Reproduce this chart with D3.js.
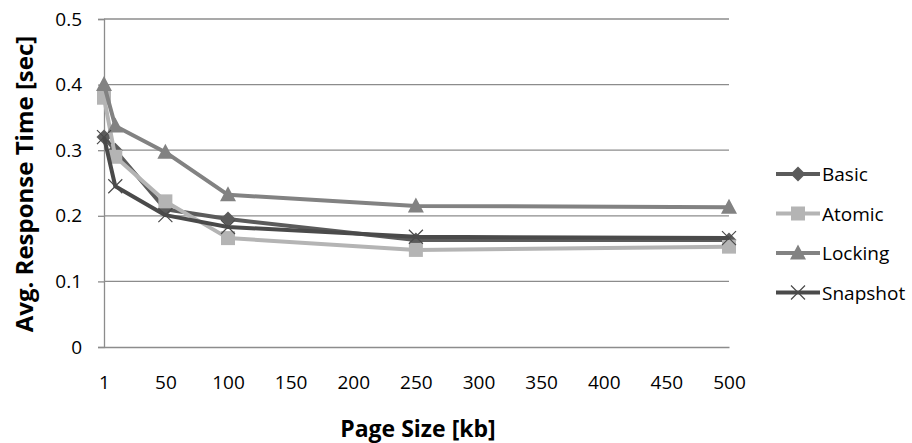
<!DOCTYPE html>
<html>
<head>
<meta charset="utf-8">
<script src="https://cdn.jsdelivr.net/npm/d3@7"></script>
<style>
  body { margin: 0; background: #fff; }
  text { font-family: "Open Sans", "Liberation Sans", sans-serif; fill: #000; }
</style>
</head>
<body>
<svg id="chart" width="912" height="443"></svg>
<script>
// page sizes in kb
const pageSizes = [1, 10, 50, 100, 250, 500];
const basic    = [0.320, 0.300, 0.210, 0.195, 0.163, 0.163];
const atomic   = [0.380, 0.290, 0.222, 0.166, 0.148, 0.153];
const locking  = [0.400, 0.337, 0.297, 0.232, 0.215, 0.213];
const snapshot = [0.320, 0.245, 0.201, 0.183, 0.168, 0.166];
const xTicks = [1, 50, 100, 150, 200, 250, 300, 350, 400, 450, 500];
const yTicks = [0, 0.1, 0.2, 0.3, 0.4, 0.5];

const series = [
    { name: "Basic", values: basic, color: "#5b5b5b", marker: "diamond" },
    { name: "Atomic", values: atomic, color: "#b4b4b4", marker: "square" },
    { name: "Locking", values: locking, color: "#828282", marker: "triangle" },
    { name: "Snapshot", values: snapshot, color: "#4a4a4a", marker: "cross" }
];

const svg = d3.select("#chart");
const plot = { left: 104, top: 19, right: 729, bottom: 347 };

const x = d3.scaleLinear().domain([1, 500]).range([plot.left, plot.right]);
const y = d3.scaleLinear().domain([0, 0.5]).range([plot.bottom, plot.top]);

//Gridlines
svg.append("g")
    .selectAll("line")
    .data(yTicks.filter(d => d > 0))
    .enter().append("line")
    .attr("x1", plot.left).attr("x2", plot.right)
    .attr("y1", d => y(d)).attr("y2", d => y(d))
    .attr("stroke", "#8c8c8c").attr("stroke-width", 1.3);

//Y axis
const yAxis = svg.append("g")
    .attr("transform", `translate(${plot.left},0)`)
    .call(d3.axisLeft(y).tickValues(yTicks).tickSize(6).tickPadding(16)
        .tickFormat(d => d === 0 ? "0" : d3.format(".1f")(d)));
yAxis.select(".domain").attr("stroke", "#8c8c8c").attr("stroke-width", 1.3);
yAxis.selectAll(".tick line").attr("stroke", "#8c8c8c").attr("stroke-width", 1.3);
yAxis.selectAll("text").style("font-size", "19px").attr("fill", "#000");

//X axis
const xAxis = svg.append("g")
    .attr("transform", `translate(0,${plot.bottom})`)
    .call(d3.axisBottom(x).tickValues(xTicks).tickSize(0).tickPadding(29));
xAxis.select(".domain").attr("stroke", "#8c8c8c").attr("stroke-width", 1.3);
xAxis.selectAll("text").style("font-size", "19px").attr("fill", "#000");

//Axis titles
svg.append("text")
    .attr("transform", "rotate(-90)")
    .attr("x", -184).attr("y", 33)
    .style("text-anchor", "middle")
    .style("font-size", "24px").style("font-weight", "bold")
    .text("Avg. Response Time [sec]");
svg.append("text")
    .attr("x", 418).attr("y", 437)
    .style("text-anchor", "middle")
    .style("font-size", "23px").style("font-weight", "bold")
    .text("Page Size [kb]");

const line = d3.line()
    .x((d, i) => x(pageSizes[i]))
    .y(d => y(d));

const drawMarker = (g, type, color, cx, cy) => {
    if (type === "diamond") {
        g.append("path")
            .attr("d", `M${cx},${cy - 7.5}L${cx + 7.5},${cy}L${cx},${cy + 7.5}L${cx - 7.5},${cy}Z`)
            .attr("fill", color);
    } else if (type === "square") {
        g.append("rect")
            .attr("x", cx - 7).attr("y", cy - 7)
            .attr("width", 14).attr("height", 14)
            .attr("fill", color);
    } else if (type === "triangle") {
        g.append("path")
            .attr("d", `M${cx},${cy - 8.5}L${cx + 8},${cy + 6.5}L${cx - 8},${cy + 6.5}Z`)
            .attr("fill", color);
    } else {
        g.append("path")
            .attr("d", `M${cx - 7},${cy - 7}L${cx + 7},${cy + 7}M${cx - 7},${cy + 7}L${cx + 7},${cy - 7}`)
            .attr("stroke", color).attr("stroke-width", 1.2).attr("fill", "none");
    }
};

//Lines and markers
series.forEach(s => {
    const g = svg.append("g");
    g.append("path")
        .datum(s.values)
        .attr("d", line)
        .attr("fill", "none")
        .attr("stroke", s.color)
        .attr("stroke-width", 4)
        .attr("stroke-linejoin", "round");
    s.values.forEach((v, i) => drawMarker(g, s.marker, s.color, x(pageSizes[i]), y(v)));
});

//Legend
const legend = svg.append("g");
series.forEach((s, i) => {
    const ly = 174 + i * 39.5;
    const g = legend.append("g");
    g.append("line")
        .attr("x1", 776).attr("x2", 820)
        .attr("y1", ly).attr("y2", ly)
        .attr("stroke", s.color).attr("stroke-width", 4);
    drawMarker(g, s.marker, s.color, 798, ly);
    g.append("text")
        .attr("x", 822).attr("y", ly + 7)
        .style("font-size", "19px")
        .text(s.name);
});
</script>
</body>
</html>
